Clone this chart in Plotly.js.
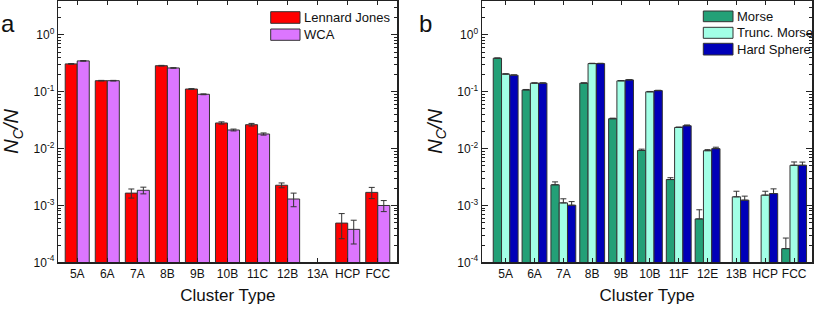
<!DOCTYPE html>
<html>
<head>
<meta charset="utf-8">
<script src="https://cdn.plot.ly/plotly-3.0.1.min.js"></script>
<style>
html,body{margin:0;padding:0;background:#fff;}
#chart{width:818px;height:310px;}
</style>
</head>
<body>
<div id="chart"></div>
<script>
// ---------- Data ----------
const categoriesA = ['5A','6A','7A','8B','9B','10B','11C','12B','13A','HCP','FCC'];
const ljValues   = [0.31, 0.157, 1.65e-3, 0.288, 0.112, 0.0283, 0.0264, 2.27e-3, null, 4.9e-4, 1.7e-3];
const ljErrors   = [0.004, 0.002, 0.3e-3, 0.004, 0.002, 0.0013, 0.0014, 0.22e-3, null, 0.23e-3, 0.38e-3];
const wcaValues  = [0.35, 0.157, 1.85e-3, 0.263, 0.0905, 0.0213, 0.0181, 1.3e-3, null, 3.8e-4, 1.0e-3];
const wcaErrors  = [0.004, 0.002, 0.25e-3, 0.003, 0.0015, 0.0008, 0.0008, 0.35e-3, null, 0.17e-3, 0.22e-3];

const categoriesB = ['5A','6A','7A','8B','9B','10B','11F','12E','13B','HCP','FCC'];
const morseValues = [0.39, 0.108, 2.31e-3, 0.142, 0.0336, 0.0093, 0.00286, 5.8e-4, null, null, 1.74e-4];
const morseErrors = [0.004, 0.002, 0.29e-3, 0.002, 0.0008, 0.0005, 0.00022, 2.6e-4, null, null, 0.93e-4];
const truncValues = [0.205, 0.142, 1.11e-3, 0.314, 0.156, 0.1, 0.0236, 0.0092, 1.42e-3, 1.52e-3, 5.1e-3];
const truncErrors = [0.003, 0.002, 0.2e-3, 0.004, 0.002, 0.0015, 0.0004, 0.0004, 0.36e-3, 0.26e-3, 0.73e-3];
const hsValues    = [0.196, 0.142, 1.01e-3, 0.314, 0.162, 0.105, 0.0253, 0.01, 1.24e-3, 1.62e-3, 5.1e-3];
const hsErrors    = [0.003, 0.002, 0.16e-3, 0.004, 0.002, 0.0015, 0.0008, 0.0006, 0.22e-3, 0.34e-3, 0.7e-3];

const seriesNamesA = ['Lennard Jones', 'WCA'];
const seriesNamesB = ['Morse', 'Trunc. Morse', 'Hard Sphere'];
const yTickVals = [1e-4, 1e-3, 1e-2, 1e-1, 1];
const yTickText = ['10<sup>-4</sup>', '10<sup>-3</sup>', '10<sup>-2</sup>', '10<sup>-1</sup>', '10<sup>0</sup>'];
const xTitle = 'Cluster Type';
const yTitle = '<i>N</i><sub><i>C</i></sub><i>/N</i>';
const panelLabels = ['a', 'b'];

// ---------- Styles ----------
const W = 818, H = 310;
const FONT = 'Arial, "Liberation Sans", sans-serif';
const colorsA = ['#FF0000', '#DC76FF'];
const colorsB = ['#23A077', '#A2FFE6', '#0000B8'];
const outline = {color: '#333333', width: 1};
const errColor = '#333333';

function barTrace(x, y, err, name, color, xa, ya, width, offset, upperOnly) {
  const e = {type: 'data', array: err, visible: true, color: errColor, thickness: 1, width: 3};
  if (upperOnly) { e.symmetric = false; e.arrayminus = err.map(() => 0); }
  return {
    type: 'bar', x: x, y: y, name: name, xaxis: xa, yaxis: ya,
    marker: {color: color, line: outline},
    width: width, offset: offset, error_y: e, showlegend: false,
    hoverinfo: 'x+y+name'
  };
}

const data = [
  barTrace(categoriesA, ljValues, ljErrors, seriesNamesA[0], colorsA[0], 'x', 'y', 0.4, -0.4, false),
  barTrace(categoriesA, wcaValues, wcaErrors, seriesNamesA[1], colorsA[1], 'x', 'y', 0.4, 0.0, false),
  barTrace(categoriesB, morseValues, morseErrors, seriesNamesB[0], colorsB[0], 'x2', 'y2', 0.287, -0.4305, true),
  barTrace(categoriesB, truncValues, truncErrors, seriesNamesB[1], colorsB[1], 'x2', 'y2', 0.287, -0.1435, true),
  barTrace(categoriesB, hsValues, hsErrors, seriesNamesB[2], colorsB[2], 'x2', 'y2', 0.287, 0.1435, true)
];

function px(x) { return x / W; }
function py(y) { return 1 - y / H; }

const yDomain = [py(262.3), py(0.5)];

function xAxis(domain, range, cats, anchor) {
  return {
    domain: domain, type: 'category', categoryarray: cats, categoryorder: 'array',
    range: range, anchor: anchor,
    showline: true, linecolor: '#222', linewidth: 1.5, mirror: 'allticks',
    ticks: 'inside', ticklen: 4, tickcolor: '#222', tickwidth: 1,
    showgrid: false, zeroline: false,
    tickfont: {family: FONT, size: 12, color: '#111'},
    title: {text: xTitle, font: {family: FONT, size: 17, color: '#111'}, standoff: 9}
  };
}
function yAxis(anchor) {
  return {
    domain: yDomain, type: 'log', range: [-4, 0.607], anchor: anchor,
    tickmode: 'array', tickvals: yTickVals, ticktext: yTickText,
    showline: true, linecolor: '#222', linewidth: 1.5, mirror: 'allticks',
    ticks: 'inside', ticklen: 6, tickcolor: '#222', tickwidth: 1,
    minor: {ticks: 'inside', ticklen: 3, tickcolor: '#222', dtick: 'D1', showgrid: false},
    showgrid: false, zeroline: false,
    tickfont: {family: FONT, size: 12, color: '#111'},
    title: {text: yTitle, font: {family: FONT, size: 20, color: '#111'}, standoff: 9}
  };
}

// Legend drawn as boxes + labels
const shapes = [];
const annotations = [];
function legendItem(x0, x1, y0, y1, color, label, tx) {
  shapes.push({type: 'rect', xref: 'paper', yref: 'paper', x0: px(x0), x1: px(x1), y0: py(y1), y1: py(y0),
    fillcolor: color, line: {color: '#333', width: 1}});
  annotations.push({xref: 'paper', yref: 'paper', x: px(tx), y: py((y0 + y1) / 2), xanchor: 'left', yanchor: 'middle',
    text: label, showarrow: false, font: {family: FONT, size: 13, color: '#111'}});
}
legendItem(270.7, 300, 11.7, 23.3, colorsA[0], seriesNamesA[0], 302);
legendItem(270.7, 300, 29, 40.3, colorsA[1], seriesNamesA[1], 302);
legendItem(703.3, 733, 11, 21.7, colorsB[0], seriesNamesB[0], 734.5);
legendItem(703.3, 733, 27.3, 38.3, colorsB[1], seriesNamesB[1], 734.5);
legendItem(703.3, 733, 43.3, 55, colorsB[2], seriesNamesB[2], 734.5);

annotations.push({xref: 'paper', yref: 'paper', x: px(8), y: py(24), xanchor: 'center', yanchor: 'middle',
  text: panelLabels[0], showarrow: false, font: {family: FONT, size: 24, color: '#111'}});
annotations.push({xref: 'paper', yref: 'paper', x: px(425), y: py(24), xanchor: 'center', yanchor: 'middle',
  text: panelLabels[1], showarrow: false, font: {family: FONT, size: 24, color: '#111'}});

const layout = {
  width: W, height: H,
  margin: {l: 0, r: 0, t: 0, b: 0},
  paper_bgcolor: '#fff', plot_bgcolor: '#fff',
  barmode: 'overlay',
  showlegend: false,
  font: {family: FONT, color: '#111'},
  xaxis: xAxis([px(58.3), px(397.3)], [-0.63, 10.65], categoriesA, 'y'),
  yaxis: yAxis('x'),
  xaxis2: xAxis([px(482), px(812.3)], [-0.82, 10.63], categoriesB, 'y2'),
  yaxis2: yAxis('x2'),
  shapes: shapes,
  annotations: annotations
};

Plotly.newPlot('chart', data, layout, {staticPlot: true, displayModeBar: false});
</script>
</body>
</html>
